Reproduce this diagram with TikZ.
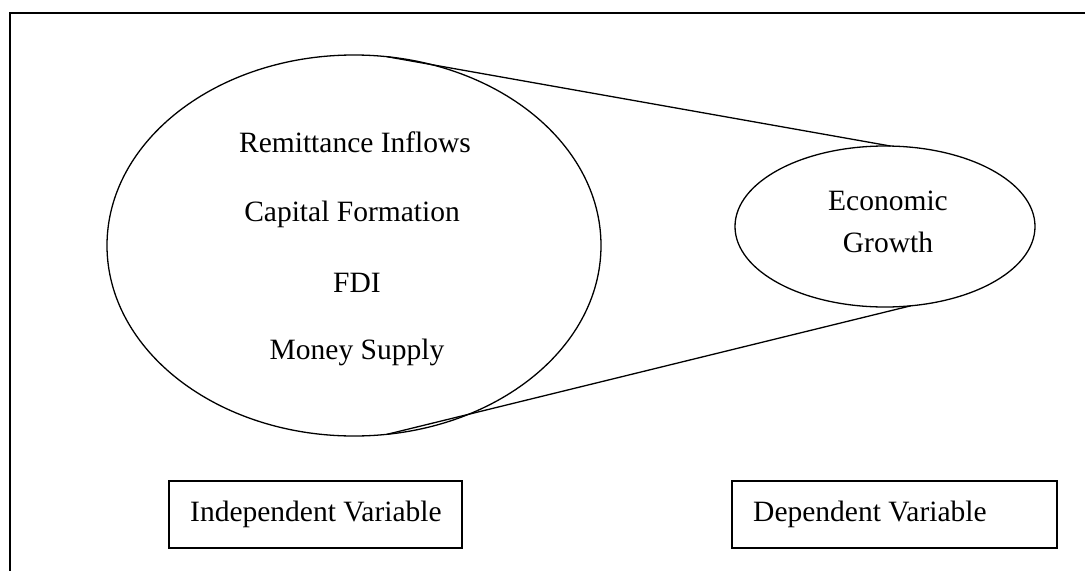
\documentclass[tikz,border=0pt]{standalone}
\usepackage{fontspec}
\setmainfont{Liberation Serif}
\usetikzlibrary{shapes.geometric}
\tikzset{
  varlabel/.style={font=\fontsize{29.5}{35}\selectfont},
  oval/.style={draw,ellipse,line width=1.3pt,inner sep=0pt,outer sep=0pt},
  varbox/.style={draw,line width=2.2pt,inner sep=0pt,outer sep=0pt,
    minimum height=67pt,anchor=north west}
}
\begin{document}
\begin{tikzpicture}[x=1pt,y=-1pt]
  \useasboundingbox (0,0) rectangle (1085,571);
  % open frame
  \draw[line width=2.4pt] (1085,13) -- (10,13) -- (10,571);
  \begin{scope}
    \node[oval,minimum width=494pt,minimum height=381pt] (indep) at (354,245.5) {};
    \node[oval,minimum width=300pt,minimum height=161pt] (dep) at (885,226.5) {};
    \draw[line width=1.3pt] (indep.80.8) -- (dep.86.4);
    \draw[line width=1.3pt] (indep.-80.8) -- (dep.-72.3);
  \end{scope}
  \node[varlabel] (remit) at (355,142) {Remittance Inflows};
  \node[varlabel] (capital) at (352,214) {Capital Formation};
  \node[varlabel] (fdi) at (357,283) {FDI};
  \node[varlabel] (money) at (357,352) {Money Supply};
  \node[varlabel] (econ) at (888,201) {Economic};
  \node[varlabel] (growth) at (888,242) {Growth};
  \node[varbox,minimum width=293pt] (indbox) at (169,481) {};
  \node[varbox,minimum width=325pt] (depbox) at (732,481) {};
  \node[varlabel,anchor=base west,inner sep=0pt] (indtext) at (190,521) {Independent Variable};
  \node[varlabel,anchor=base west,inner sep=0pt] (deptext) at (753,521) {Dependent Variable};
\end{tikzpicture}
\end{document}
